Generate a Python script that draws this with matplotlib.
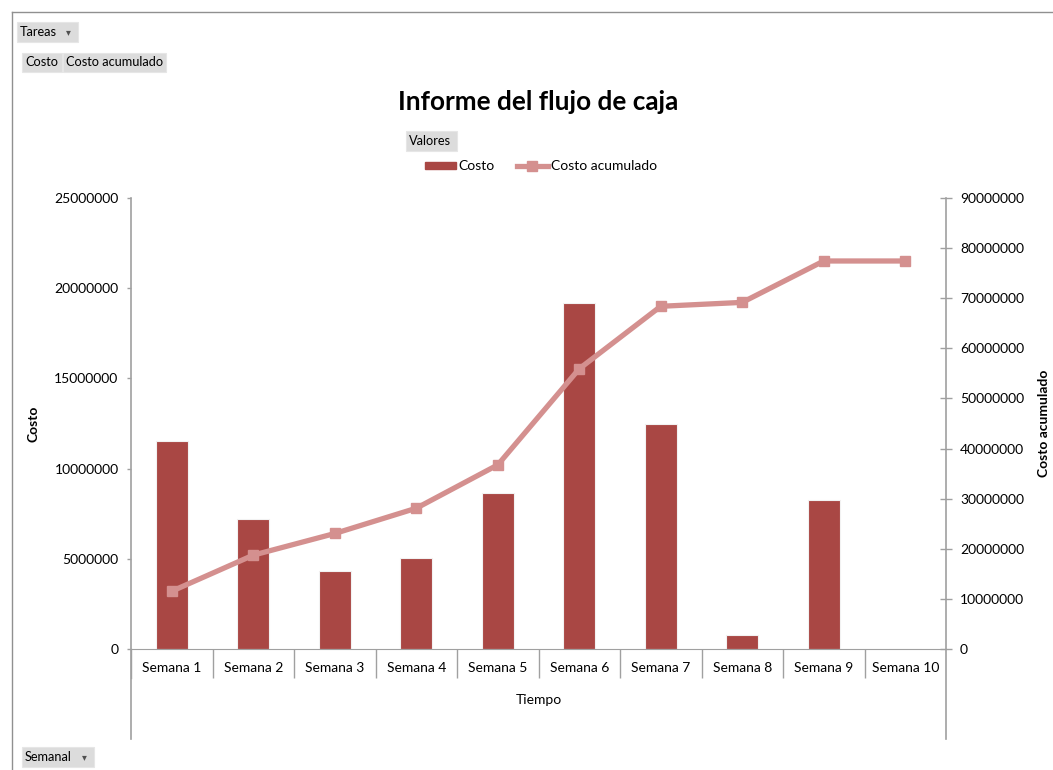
import matplotlib.pyplot as plt
import numpy as np
from matplotlib.lines import Line2D
from matplotlib.patches import Rectangle

plt.rcParams['font.family'] = ['Lato', 'DejaVu Sans']

semanas = ["Semana 1", "Semana 2", "Semana 3", "Semana 4", "Semana 5",
           "Semana 6", "Semana 7", "Semana 8", "Semana 9", "Semana 10"]
costo = [11530000, 7200000, 4320000, 5040000, 8650000,
         19180000, 12470000, 780000, 8260000, 0]
costo_acumulado = list(np.cumsum(costo))

bar_color = '#A94744'
line_color = '#D4908F'
axis_color = '#A0A0A0'

fig = plt.figure(figsize=(10.53, 7.7), dpi=100)
W, H = 1053, 770

def fx(px):
    return px / W

def fy(py):
    return 1 - py / H

ax = fig.add_axes([fx(131), fy(649), fx(946) - fx(131), fy(198) - fy(649)])
ax2 = ax.twinx()

x = np.arange(len(semanas))
ax.bar(x, costo, width=0.39, color=bar_color, edgecolor='#F2F2F2', linewidth=0.8, zorder=2)
ax2.plot(x, costo_acumulado, color=line_color, linewidth=3.8,
         marker='s', markersize=7, markerfacecolor=line_color, markeredgecolor=line_color,
         solid_capstyle='round', zorder=3)

ax.set_xlim(-0.5, len(semanas) - 0.5)
ax.set_ylim(0, 25000000)
ax2.set_ylim(0, 90000000)
ax.set_yticks(np.arange(0, 25000001, 5000000))
ax2.set_yticks(np.arange(0, 90000001, 10000000))
ax.yaxis.set_major_formatter(plt.FuncFormatter(lambda v, p: "%d" % v))
ax2.yaxis.set_major_formatter(plt.FuncFormatter(lambda v, p: "%d" % v))

for a in (ax, ax2):
    for s in a.spines.values():
        s.set_visible(False)
ax.spines['bottom'].set_visible(True)
ax.spines['bottom'].set_color(axis_color)

ax.tick_params(axis='y', labelsize=10, color=axis_color, length=3, width=1, direction='out', pad=6)
ax2.tick_params(axis='y', labelsize=10, color=axis_color, length=8, width=1, direction='inout', pad=6)
ax.set_xticks(x)
ax.set_xticklabels(semanas, fontsize=10)
ax.set_xticks(np.arange(0.5, len(semanas) - 0.5, 1), minor=True)
ax.tick_params(axis='x', which='major', length=0, pad=9)
ax.tick_params(axis='x', which='minor', length=21, color=axis_color, width=1, direction='out')

ax.set_ylabel("Costo", fontsize=10, fontweight='bold')
ax2.set_ylabel("Costo acumulado", fontsize=10, fontweight='bold')
ax.yaxis.set_label_coords(-0.112, 0.5)
ax2.yaxis.set_label_coords(1.113, 0.5)
ax.set_xlabel("Tiempo", fontsize=10, labelpad=8)

# axis lines running past the plot area
for px in (131, 946):
    fig.add_artist(Line2D([fx(px), fx(px)], [fy(198), fy(739)], color=axis_color, linewidth=1.2))
fig.add_artist(Line2D([fx(131), fx(131)], [fy(649), fy(678)], color=axis_color, linewidth=1))

# outer frame
fig.add_artist(Line2D([fx(12), fx(1053)], [fy(11.5), fy(11.5)], color='#909090', linewidth=1))
fig.add_artist(Line2D([fx(12), fx(12)], [fy(11.5), fy(770)], color='#909090', linewidth=1))

fig.text(fx(538), fy(102), "Informe del flujo de caja", fontsize=18.8, fontweight='bold',
         ha='center', va='center')

def button(x0, y0, x1, y1, label, arrow=False):
    fig.add_artist(Rectangle((fx(x0), fy(y1)), fx(x1) - fx(x0), fy(y0) - fy(y1),
                             facecolor='#DCDCDC', edgecolor='#E6E6E6', linewidth=0.8))
    fig.text(fx(x0 + 3), fy((y0 + y1) / 2), label, fontsize=9.2, ha='left', va='center')
    if arrow:
        fig.text(fx(x1 - 10), fy((y0 + y1) / 2), "\u25be", fontsize=7, ha='center', va='center',
                 color='#505050', family='DejaVu Sans')

button(17, 22, 78, 42, "Tareas", arrow=True)
button(22, 53, 62, 72, "Costo")
button(63, 53, 166, 72, "Costo acumulado")
button(406, 131, 457, 151, "Valores")
button(22, 747, 94, 767, "Semanal", arrow=True)

handles = [Rectangle((0, 0), 1, 1, color=bar_color),
           Line2D([], [], color=line_color, linewidth=3.8, marker='s', markersize=7)]
fig.legend(handles, ["Costo", "Costo acumulado"], loc='center', bbox_to_anchor=(fx(541), fy(166)),
           ncol=2, frameon=False, fontsize=10, handlelength=2.2, handletextpad=0.2,
           columnspacing=1.6, handleheight=0.4)

plt.savefig("out.png", dpi=100)
